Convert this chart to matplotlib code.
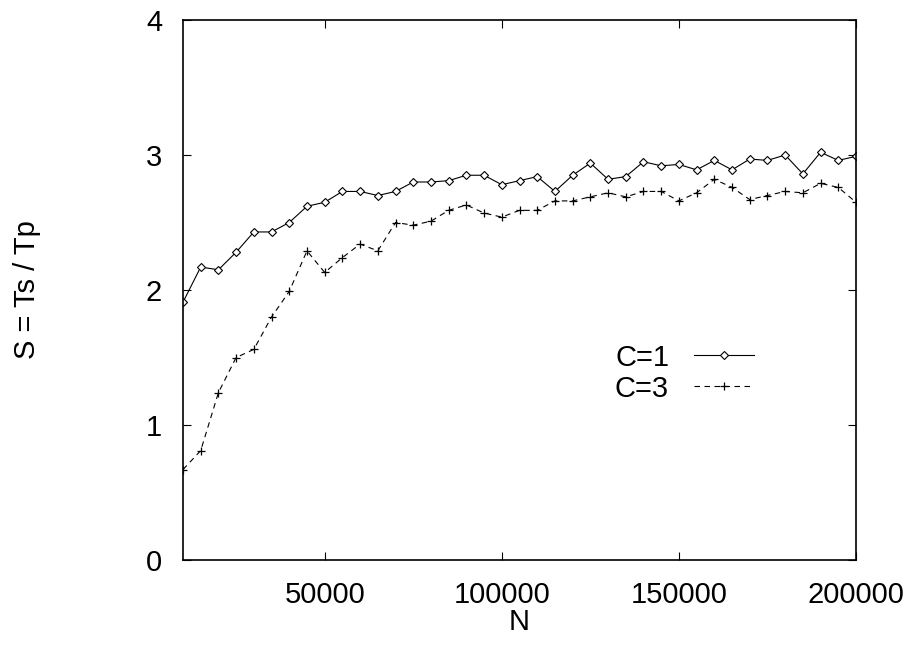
import matplotlib
matplotlib.use("Agg")
import matplotlib.pyplot as plt

# problem size N, every 5000 from 10000 to 200000
N = [10000, 15000, 20000, 25000, 30000, 35000, 40000, 45000, 50000, 55000,
     60000, 65000, 70000, 75000, 80000, 85000, 90000, 95000, 100000, 105000,
     110000, 115000, 120000, 125000, 130000, 135000, 140000, 145000, 150000,
     155000, 160000, 165000, 170000, 175000, 180000, 185000, 190000, 195000,
     200000]

# speedup S = Ts / Tp
S_c1 = [1.91, 2.17, 2.15, 2.28, 2.43, 2.43, 2.50, 2.62, 2.65, 2.73,
        2.73, 2.70, 2.73, 2.80, 2.80, 2.81, 2.85, 2.85, 2.78, 2.81,
        2.84, 2.73, 2.85, 2.94, 2.82, 2.84, 2.95, 2.92, 2.93, 2.89,
        2.96, 2.89, 2.97, 2.96, 3.00, 2.86, 3.02, 2.96, 2.99]
S_c3 = [0.67, 0.81, 1.24, 1.50, 1.56, 1.80, 1.99, 2.29, 2.13, 2.24,
        2.34, 2.29, 2.50, 2.48, 2.51, 2.59, 2.63, 2.57, 2.54, 2.59,
        2.59, 2.66, 2.66, 2.69, 2.72, 2.69, 2.73, 2.73, 2.66, 2.72,
        2.82, 2.76, 2.67, 2.70, 2.73, 2.72, 2.79, 2.76, 2.65]

plt.rcParams['font.family'] = ['Liberation Sans', 'DejaVu Sans']
fs = 21

fig = plt.figure(figsize=(9.14, 6.45), dpi=100)
ax = fig.add_axes([183/914, 1-560/645, (856-183)/914, 540/645])

ax.plot(N, S_c1, color='black', linewidth=0.8, marker='D', markersize=3.8,
        markerfacecolor='white', markeredgecolor='black', markeredgewidth=0.8,
        label='C=1')
ax.plot(N, S_c3, color='black', linewidth=0.8, linestyle=(0, (5, 4)),
        marker='+', markersize=6, markeredgewidth=0.9, label='C=3')

ax.set_xlim(10000, 200000)
ax.set_ylim(0, 4)
ax.set_xticks([50000, 100000, 150000, 200000])
ax.set_yticks([0, 1, 2, 3, 4])
ax.tick_params(direction='in', length=6, width=0.8, top=True, right=True,
               labelsize=fs)
ax.tick_params(axis='x', pad=15)
ax.tick_params(axis='y', pad=15)
for sp in ax.spines.values():
    sp.set_linewidth(1.2)

ax.set_xlabel('N', fontsize=fs)
ax.xaxis.set_label_coords(0.5, -0.088)
fig.text(27/914, 1-290/645, 'S = Ts / Tp', rotation=90, fontsize=fs,
         ha='center', va='center')

ax.legend(loc='center right', bbox_to_anchor=(0.848, 0.346), frameon=False,
          fontsize=fs, markerfirst=False, handlelength=2.05,
          handletextpad=0.85, labelspacing=0.1, borderpad=0,
          borderaxespad=0)

fig.savefig('out.png', dpi=100)
